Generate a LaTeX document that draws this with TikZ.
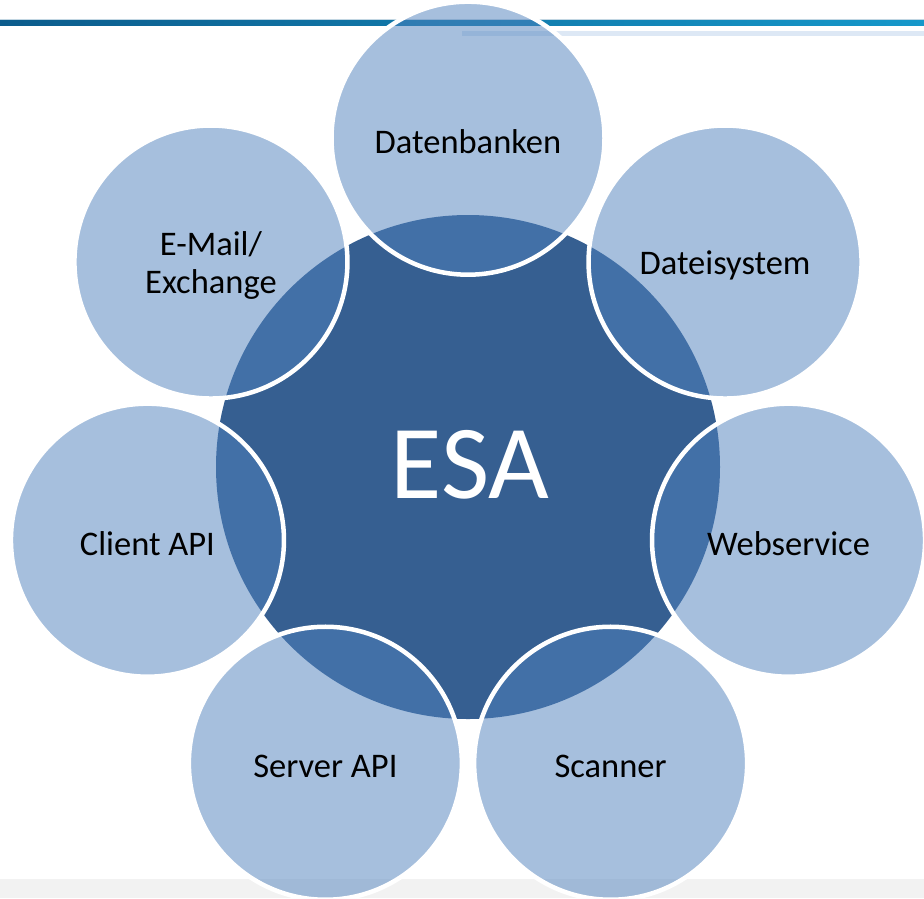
\documentclass[tikz,border=0pt]{standalone}
\usepackage{fontspec}
\setmainfont{Carlito}
\definecolor{accentA}{HTML}{4F81BD}
\definecolor{centerC}{HTML}{365F91}
\definecolor{barL}{HTML}{0C5C8C}
\definecolor{barR}{HTML}{1698CA}
\definecolor{lineL}{HTML}{DDE8F5}
\definecolor{bandG}{HTML}{F2F2F2}
\begin{document}
\begin{tikzpicture}[x=1pt,y=-1pt,
  outer/.style={circle, inner sep=0pt, minimum size=273pt, fill=accentA, fill opacity=0.5,
    draw=white, draw opacity=1, line width=4.5pt},
  lbl/.style={inner sep=0pt, yshift=-3.5pt, font=\fontsize{34.5}{38}\selectfont, text=black, align=center},
  hub/.style={circle, inner sep=0pt, minimum size=504pt, fill=centerC, text=white, font=\fontsize{105}{110}\selectfont}]
\useasboundingbox (0,0) rectangle (924,898);
\fill[white] (0,0) rectangle (924,898);
% top decoration
\shade[left color=barL, right color=barR] (0,19.5) rectangle (924,25.7);
\fill[white!75!barL] (0,18.5) rectangle (924,19.5);
\fill[lineL] (462,30.7) rectangle (924,35.7);
% bottom band
\fill[bandG] (0,879) rectangle (924,898);
% hub
\node[hub] (esa) at (468,467) {};
\node[text=white, font=\fontsize{105}{110}\selectfont, inner sep=0pt] (esal) at (470,465) {ESA};
% outer circles
\node[outer] (db)  at ({468+328.8*cos(90)},  {467-328.8*sin(90)})  {};
\node[outer] (fs)  at ({468+328.8*cos(38.57)},{467-328.8*sin(38.57)}) {};
\node[outer] (ws)  at ({468+328.8*cos(-12.86)},{467-328.8*sin(-12.86)}) {};
\node[outer] (sc)  at ({468+328.8*cos(-64.29)},{467-328.8*sin(-64.29)}) {};
\node[outer] (sa)  at ({468+328.8*cos(-115.71)},{467-328.8*sin(-115.71)}) {};
\node[outer] (ca)  at ({468+328.8*cos(-167.14)},{467-328.8*sin(-167.14)}) {};
\node[outer] (em)  at ({468+328.8*cos(141.43)},{467-328.8*sin(141.43)}) {};
% labels
\node[lbl] (dbl) at (db) {Datenbanken};
\node[lbl] (fsl) at (fs) {Dateisystem};
\node[lbl] (wsl) at (ws) {Webservice};
\node[lbl] (scl) at (sc) {Scanner};
\node[lbl] (sal) at (sa) {Server API};
\node[lbl] (cal) at (ca) {Client API};
\node[lbl] (eml) at (em) {E-Mail/\\Exchange};
\end{tikzpicture}
\end{document}
